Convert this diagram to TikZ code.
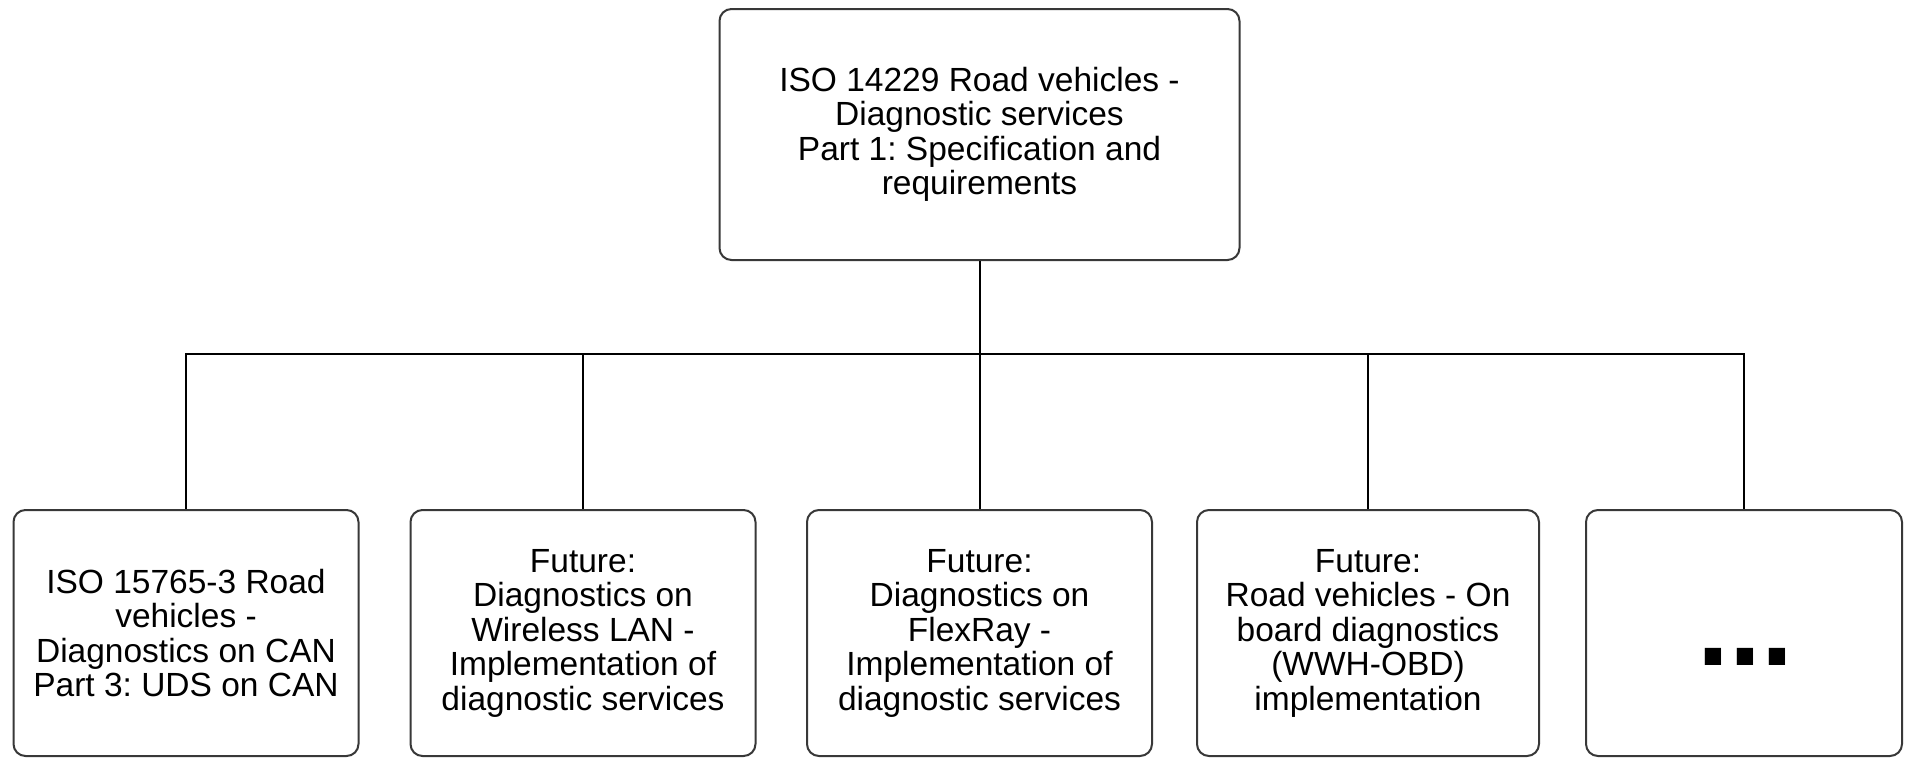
\documentclass[tikz,border=0pt]{standalone}
\usepackage{fontspec}
\setmainfont{Liberation Sans}
\frenchspacing
\begin{document}
\begin{tikzpicture}[x=1pt,y=-1pt,
  box/.style={draw=black!78, line width=2pt, rounded corners=12pt, fill=white,
    minimum width=#1, minimum height=246pt, inner sep=0pt, align=center,
    font=\fontsize{33.5}{34.5}\selectfont},
  box/.default=345pt,
  link/.style={draw=black, line width=2pt}]
\useasboundingbox (0,0) rectangle (1906,758);
\fill[white] (0,0) rectangle (1906,758);

% root standard
\node[box=520pt, minimum height=251pt] (root) at (979.5,134.5)
  {ISO 14229 Road vehicles -\\Diagnostic services\\Part 1: Specification and\\requirements};

% child documents
\node[box] (can) at (186,633)
  {ISO 15765-3 Road\\vehicles -\\Diagnostics on CAN\\Part 3: UDS on CAN};
\node[box] (wlan) at (583,633)
  {Future:\\Diagnostics on\\Wireless LAN -\\Implementation of\\diagnostic services};
\node[box] (flexray) at (979.5,633)
  {Future:\\Diagnostics on\\FlexRay -\\Implementation of\\diagnostic services};
\node[box=342pt] (obd) at (1368,633)
  {Future:\\Road vehicles - On\\board diagnostics\\(WWH-OBD)\\implementation};
\node[box=316pt] (more) at (1744,633) {};
\node[anchor=base, inner sep=0pt, font=\fontsize{115}{120}\selectfont\bfseries] (dots) at (1745,665) {...};

% tree connectors
\coordinate (bus) at (979.5,354);
\draw[link] (root.south) -- (bus);
\draw[link] (bus) -| (can.north);
\draw[link] (bus) -| (wlan.north);
\draw[link] (bus) -- (flexray.north);
\draw[link] (bus) -| (obd.north);
\draw[link] (bus) -| (more.north);
\end{tikzpicture}
\end{document}
